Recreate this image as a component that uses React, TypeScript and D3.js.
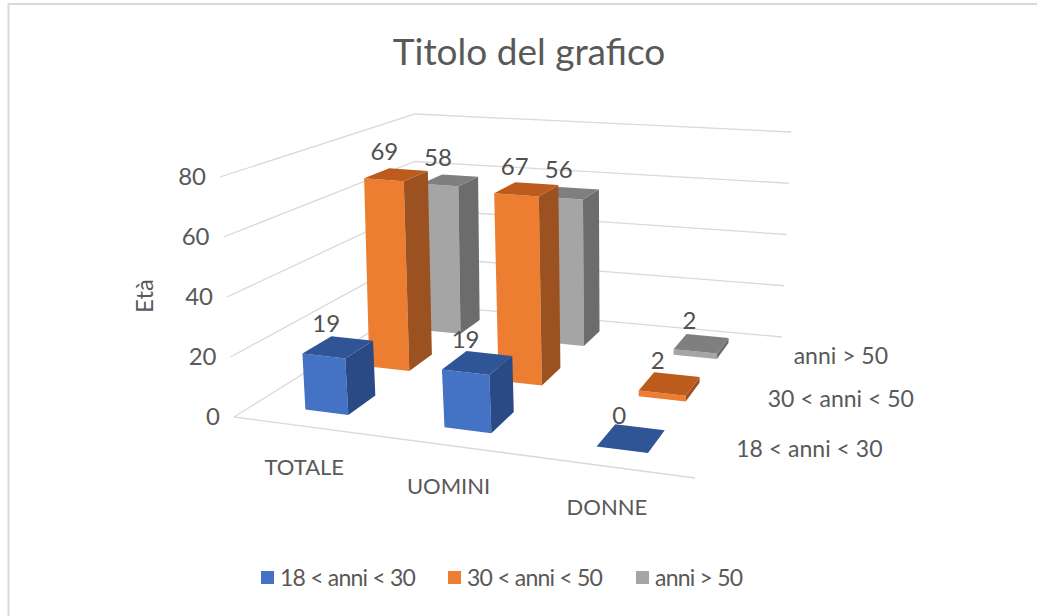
import * as d3 from "d3";

const categories = ["TOTALE", "UOMINI", "DONNE"];
const seriesNames = ["18 < anni < 30", "30 < anni < 50", "anni > 50"];
const seriesValues = [
  [19, 19, 0],
  [69, 67, 2],
  [58, 56, 2],
];
const yTicks = [0, 20, 40, 60, 80];
const frontColors = ["#4472C4", "#ED7D31", "#A5A5A5"];
const sideColors = ["#2A4A85", "#9C5220", "#6C6C6C"];
const topColors = ["#2F5597", "#BC5B1B", "#7F7F7F"];

const width = 1037;
const height = 616;
const textColor = "#595959";
const gridColor = "#D9D9D9";
const font = "Lato, 'Open Sans', sans-serif";

type Pt = [number, number];

// corners of the 3d box on screen: front-left, front-right, back-right, back-left
const floorBox: Pt[] = [[234, 417], [695, 478], [782, 337], [415, 304]];
const ceilBox: Pt[] = [[220, 177], [708, 219], [791, 132], [415, 114]];

// maps the unit square onto a screen quadrilateral
function quadMap([p00, p10, p11, p01]: Pt[]) {
  const dx1 = p10[0] - p11[0];
  const dx2 = p01[0] - p11[0];
  const sx = p00[0] - p10[0] + p11[0] - p01[0];
  const dy1 = p10[1] - p11[1];
  const dy2 = p01[1] - p11[1];
  const sy = p00[1] - p10[1] + p11[1] - p01[1];
  const den = dx1 * dy2 - dx2 * dy1;
  const g = (sx * dy2 - dx2 * sy) / den;
  const h = (dx1 * sy - sx * dy1) / den;
  return (u: number, v: number): Pt => {
    const w = 1 + g * u + h * v;
    return [
      (p00[0] + (p10[0] * (1 + g) - p00[0]) * u + (p01[0] * (1 + h) - p00[0]) * v) / w,
      (p00[1] + (p10[1] * (1 + g) - p00[1]) * u + (p01[1] * (1 + h) - p00[1]) * v) / w,
    ];
  };
}

const floorMap = quadMap(floorBox);
const ceilMap = quadMap(ceilBox);
const yScale = d3.scaleLinear().domain([0, 80]).range([0, 1]);
const uScale = d3.scaleBand<string>().domain(categories).range([0.012, 0.998]).paddingInner(0.682).paddingOuter(0.341);
const vScale = d3.scaleBand<string>().domain(seriesNames).range([0, 1]).paddingInner(0.58).paddingOuter(0.29);

// u along the categories, v into the depth, y the value
function project(u: number, v: number, y: number): Pt {
  const a = floorMap(u, v);
  const b = ceilMap(u, v);
  const t = yScale(y);
  return [a[0] + (b[0] - a[0]) * t, a[1] + (b[1] - a[1]) * t];
}

const poly = d3.line().curve(d3.curveLinearClosed);
const seg = d3.line();

function Bar({ cat, s }: { cat: number; s: number }) {
  const value = seriesValues[s][cat];
  const u0 = uScale(categories[cat])!;
  const u1 = u0 + uScale.bandwidth();
  const v0 = vScale(seriesNames[s])!;
  const v1 = v0 + vScale.bandwidth();
  const front = [project(u0, v0, 0), project(u1, v0, 0), project(u1, v0, value), project(u0, v0, value)];
  const side = [project(u1, v0, 0), project(u1, v1, 0), project(u1, v1, value), project(u1, v0, value)];
  const top = [project(u0, v0, value), project(u1, v0, value), project(u1, v1, value), project(u0, v1, value)];
  return (
    <g>
      {value > 0 && <path d={poly(front)!} fill={frontColors[s]} />}
      {value > 0 && <path d={poly(side)!} fill={sideColors[s]} />}
      <path d={poly(top)!} fill={topColors[s]} />
    </g>
  );
}

function BarLabel({ cat, s }: { cat: number; s: number }) {
  const value = seriesValues[s][cat];
  const u = uScale(categories[cat])! + uScale.bandwidth() / 2;
  const v = vScale(seriesNames[s])! + vScale.bandwidth() / 2;
  const [x, y] = project(u, v, value);
  return (
    <text x={x - 12} y={y - 23} dy="0.35em" textAnchor="middle" fontSize={24} fill="#505050">
      {value}
    </text>
  );
}

export default function App() {
  const backward = [2, 1, 0];
  return (
    <svg
      width={width}
      height={height}
      style={{ position: "absolute", left: 0, top: 0, background: "#fff" }}
      fontFamily={font}
    >
      <path d="M8.5,616V4H1037" fill="none" stroke={gridColor} strokeWidth={2} />

      <text x={529} y={65} textAnchor="middle" fontSize={37} fill={textColor}>
        Titolo del grafico
      </text>

      {yTicks.map((t) => (
        <g key={t}>
          <path d={seg([project(0, 0, t), project(0, 1, t), project(1, 1, t)])!} fill="none" stroke={gridColor} strokeWidth={1.3} />
          <text x={project(0, 0, t)[0] - 14} y={project(0, 0, t)[1]} dy="0.35em" textAnchor="end" fontSize={24} fill={textColor}>
            {t}
          </text>
        </g>
      ))}
      <path d={seg([project(0, 0, 0), project(1, 0, 0)])!} fill="none" stroke={gridColor} strokeWidth={1.3} />

      <text transform="translate(145,296) rotate(-90)" dy="0.35em" textAnchor="middle" fontSize={24} fill={textColor}>
        Età
      </text>

      {backward.map((s) => categories.map((_, c) => <Bar key={`${s}-${c}`} cat={c} s={s} />))}
      {backward.map((s) => categories.map((_, c) => <BarLabel key={`${s}-${c}`} cat={c} s={s} />))}

      {categories.map((c) => {
        const [x, y] = project(uScale(c)! + uScale.bandwidth() / 2, 0, 0);
        return (
          <text key={c} x={x - 2} y={y + 41} dy="0.35em" textAnchor="middle" fontSize={22} fill={textColor}>
            {c}
          </text>
        );
      })}

      {seriesNames.map((n) => {
        const [x, y] = project(1, vScale(n)! + vScale.bandwidth() / 2, 0);
        return (
          <text key={n} x={x + 23} y={y + 1} dy="0.35em" fontSize={23} fill={textColor}>
            {n}
          </text>
        );
      })}

      {seriesNames.map((n, i) => {
        const x = [261, 448, 636][i];
        return (
          <g key={n}>
            <rect x={x} y={571} width={13} height={13} fill={frontColors[i]} />
            <text x={x + 19} y={578} dy="0.35em" fontSize={23} letterSpacing={-0.8} fill={textColor}>
              {n}
            </text>
          </g>
        );
      })}
    </svg>
  );
}
